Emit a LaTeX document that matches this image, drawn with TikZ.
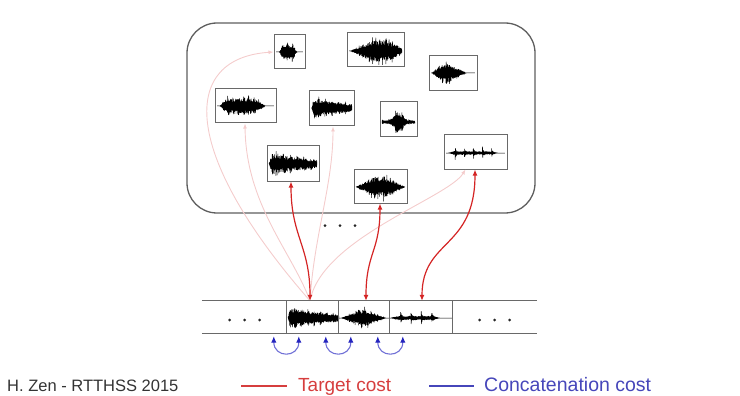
\documentclass[tikz,border=0pt]{standalone}
\usepackage{fontspec}
\newfontfamily\lib{Liberation Sans}
\usetikzlibrary{arrows.meta,calc}
\definecolor{tred}{RGB}{212,36,36}
\definecolor{lred}{RGB}{214,62,62}
\definecolor{pinkc}{RGB}{244,204,204}
\definecolor{cblue}{RGB}{112,112,214}
\definecolor{dblue}{RGB}{36,36,190}
\definecolor{lblue}{RGB}{70,70,186}
\definecolor{frm}{RGB}{105,105,105}
\newcommand{\wf}[8]{%
  \pgfmathsetseed{#8}%
  \pgfmathtruncatemacro{\ns}{3.5*(#2-#1)}%
  \draw[black, line width=0.5pt, line join=round]
    plot[variable=\t, domain=0:1, samples=\ns]
    ({#1+(#2-#1)*\t}, {#3+#4*(#5)*(0.62+0.38*exp(-#7*mod(\t*#6,1)))*(0.5+0.5*rnd)*(1-2*mod(round(\t*(\ns-1)),2))});%
}
\begin{document}
\begin{tikzpicture}[x=1pt,y=-1pt,
  wbox/.style={draw=frm, line width=1pt, fill=white, inner sep=0pt},
  dbbox/.style={draw=frm!90!black, line width=1.3pt, rounded corners=30pt, inner sep=0pt},
  seg/.style={inner sep=0pt},
  strip/.style={draw=frm, line width=0.8pt},
  tcost/.style={tred, line width=1.2pt, {Latex[length=6pt,width=5pt]}-{Latex[length=6pt,width=5pt]}},
  faint/.style={pinkc, line width=0.9pt, -{Latex[length=5pt,width=4pt]}},
  ccost/.style={cblue, line width=1.1pt, {Latex[length=6.5pt,width=5.5pt,color=dblue]}-{Latex[length=6.5pt,width=5.5pt,color=dblue]}},
  dot/.style={fill=black!85},
  leg/.style={anchor=base west, inner sep=0pt}
]
\useasboundingbox (0,0) rectangle (740,396);

% database
\node[dbbox, minimum width=348pt, minimum height=190pt] (DB) at (361,118) {};

% strip segments (positions)
\node[seg, minimum width=85pt, minimum height=32pt] (L) at (244.5,317) {};
\node[seg, minimum width=52pt, minimum height=32pt] (S1) at (313,317) {};
\node[seg, minimum width=51pt, minimum height=32pt] (S2) at (364.5,317) {};
\node[seg, minimum width=62pt, minimum height=32pt] (S3) at (421,317) {};
\node[seg, minimum width=85pt, minimum height=32pt] (R) at (494.5,317) {};
\coordinate (src) at ([xshift=-3pt]S1.north);

% unit boxes
\node[wbox, minimum width=31pt, minimum height=34pt] (A) at (289.5,52) {};
\node[wbox, minimum width=57pt, minimum height=34pt] (B) at (375.5,50) {};
\node[wbox, minimum width=48pt, minimum height=35pt] (C) at (453,73.5) {};
\node[wbox, minimum width=61pt, minimum height=34pt] (D) at (245.5,106) {};
\node[wbox, minimum width=45pt, minimum height=35pt] (E) at (331.5,108.5) {};
\node[wbox, minimum width=37pt, minimum height=35pt] (F) at (398.5,119.5) {};
\node[wbox, minimum width=52pt, minimum height=35pt] (G) at (293,163.5) {};
\node[wbox, minimum width=63pt, minimum height=34pt] (H) at (475.5,152) {};
\node[wbox, minimum width=53pt, minimum height=34pt] (I) at (380.5,186) {};

% faint candidate connectors
\draw[faint] (src) .. controls (178,150) and (182,58) .. (A.west);
\draw[faint] (src) .. controls (292,252) and (246,205) .. ([xshift=-0.5pt]D.south);
\draw[faint] (src) .. controls (314,235) and (333,185) .. ([xshift=1.5pt]E.south);
\draw[faint] (src) .. controls (322,238) and (448,198) .. ([xshift=-10pt]H.south);

% waveforms
\wf{276}{303}{52}{12}{max(0,min(1,(\t-0.12)*8,(0.78-\t)*6))}{5}{6}{11}
\wf{349}{402}{51}{16}{max(0,min(1,1.3*(1-abs(\t-0.58)/0.55)))}{16}{4}{12}
\wf{431}{475}{73}{14}{max(0,min(1,(\t-0.02)/0.25,(0.8-\t)/0.4))}{12}{4}{13}
\wf{217}{274}{106}{12}{max(0,min(1,(\t-0.05)*8,(0.85-\t)*5))}{11}{5}{14}
\wf{311}{352}{108}{17}{max(0,min(1,(\t-0.02)*20))*exp(-1.1*\t)}{6}{5}{15}
\wf{382}{415}{122}{16}{0.15+0.85*exp(-((\t-0.5)/0.17)*((\t-0.5)/0.17))}{5}{4}{16}
\wf{269}{317}{164}{17}{exp(-1.0*\t)*min(1,\t*15)}{7}{4}{17}
\wf{446}{505}{153}{10}{max(0,min(1,(\t-0.04)*10,(0.88-\t)*10))*(1-0.35*\t)*(0.3+0.7*exp(-10*mod(\t*6.5,1)))}{6.5}{10}{18}
\wf{356}{405}{187}{15}{max(0,min(1,1.3*(1-abs(\t-0.5)/0.5)))}{16}{4}{19}

% selected units in the strip
\wf{288}{339}{318}{16}{exp(-1.1*\t)*min(1,\t*20)}{8}{4}{21}
\wf{339}{390}{318}{12}{max(0,min(1,(\t-0.05)/0.35,(0.92-\t)/0.4))}{16}{4}{22}
\wf{390}{452}{318}{10}{max(0,min(1,(\t-0.02)*10,(0.8-\t)*10))*(0.3+0.7*exp(-10*mod(\t*6,1)))}{6}{10}{23}

% strip lines
\draw[strip] (L.north west) -- (R.north east);
\draw[strip] (L.south west) -- (R.south east);
\draw[strip] (S1.north west) -- (S1.south west);
\draw[strip] (S2.north west) -- (S2.south west);
\draw[strip] (S3.north west) -- (S3.south west);
\draw[strip] (S3.north east) -- (S3.south east);

% dots
\foreach \dx in {-15,0,15} {
  \fill[dot] ([xshift=\dx pt,yshift=-3pt]L.center) circle (1.5pt);
  \fill[dot] ([xshift=\dx pt,yshift=-3pt]R.center) circle (1.5pt);
  \fill[dot] ([xshift=\dx pt]$(DB.south)+(-21,12)$) circle (1.5pt);
}

% target cost connectors
\draw[tcost] (src) .. controls +(0,-55) and +(0,55) .. ([xshift=-2pt]G.south);
\draw[tcost] ([xshift=1.5pt]S2.north) .. controls +(0,-48) and +(0,48) .. ([xshift=-0.5pt]I.south);
\draw[tcost] ([xshift=1pt]S3.north) .. controls +(0,-62) and +(0,80) .. ([xshift=-0.5pt]H.south);

% concatenation cost connectors
\draw[ccost] ([xshift=-13pt,yshift=-3pt]S1.south west) .. controls +(0,22) and +(0,22) .. ([xshift=12pt,yshift=-3pt]S1.south west);
\draw[ccost] ([xshift=-13pt,yshift=-3pt]S2.south west) .. controls +(0,22) and +(0,22) .. ([xshift=12pt,yshift=-3pt]S2.south west);
\draw[ccost] ([xshift=-12pt,yshift=-3pt]S3.south west) .. controls +(0,22) and +(0,22) .. ([xshift=13pt,yshift=-3pt]S3.south west);

% legend
\node[leg, text=black!80, font=\lib\fontsize{16.5}{18}\selectfont] (cred) at (7,391) {H. Zen - RTTHSS 2015};
\node[leg, text=lred, font=\lib\fontsize{19}{21}\selectfont] (lt) at (298,391) {Target cost};
\node[leg, text=lblue, font=\lib\fontsize{19.5}{21}\selectfont] (lc) at (484,391) {Concatenation cost};
\draw[lred, line width=1.2pt] ([xshift=-57pt,yshift=5pt]lt.base west) -- ([xshift=-11pt,yshift=5pt]lt.base west);
\draw[lblue, line width=1.2pt] ([xshift=-55pt,yshift=5pt]lc.base west) -- ([xshift=-10pt,yshift=5pt]lc.base west);
\end{tikzpicture}
\end{document}
